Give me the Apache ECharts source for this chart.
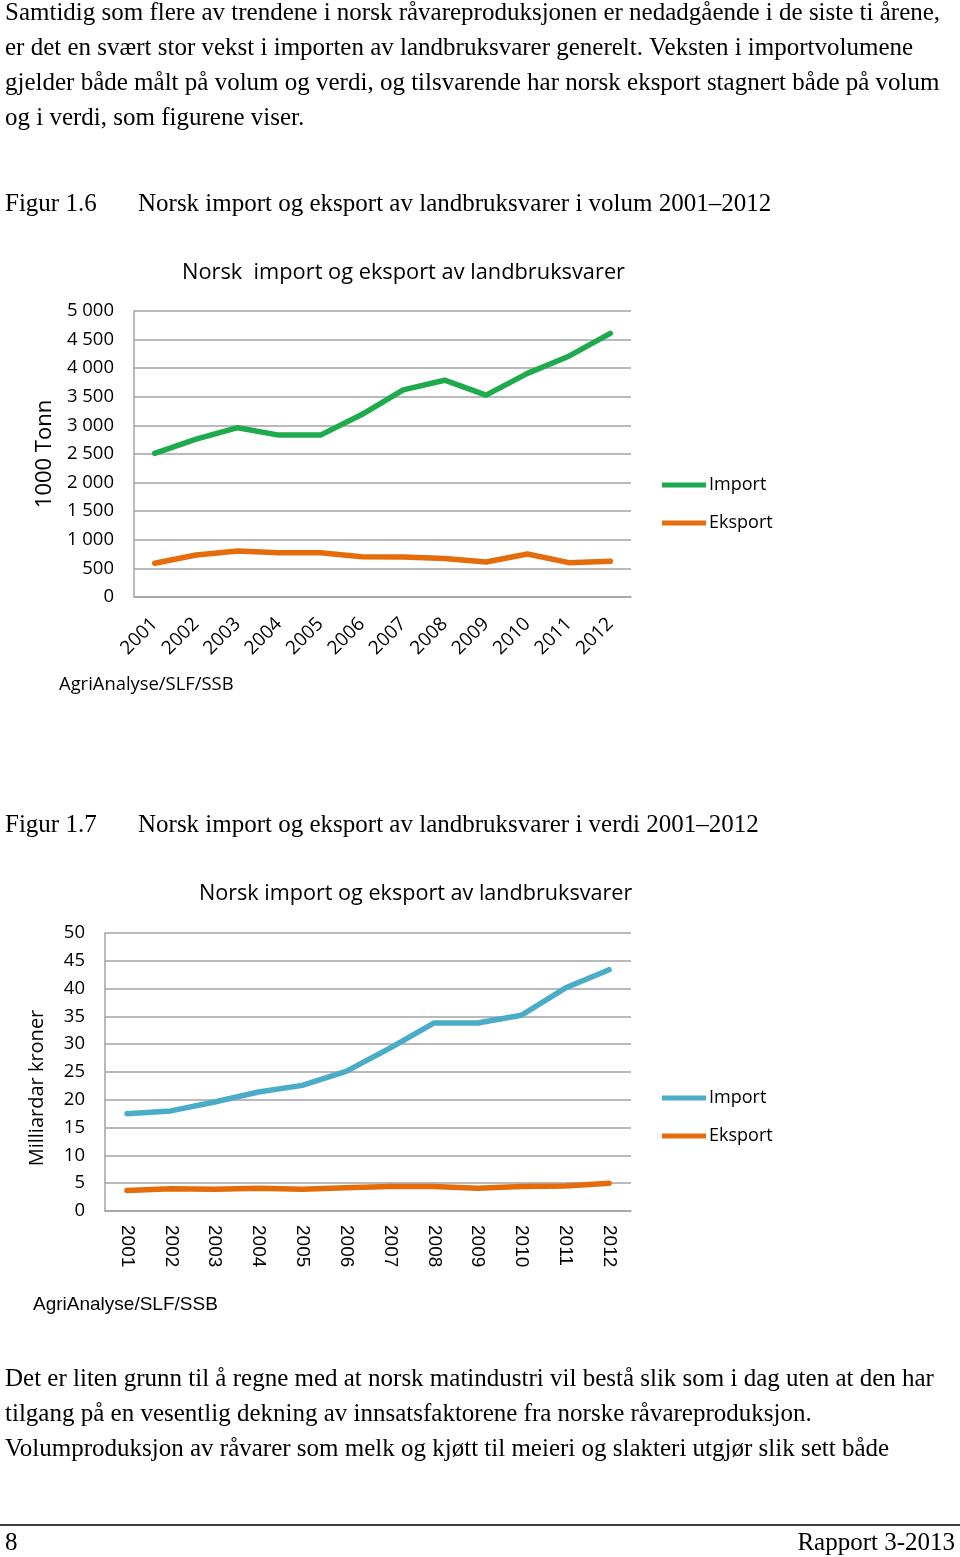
<!DOCTYPE html>
<html><head><meta charset="utf-8">
<script src="https://cdn.jsdelivr.net/npm/echarts@6/dist/echarts.min.js"></script>
<style>html,body{margin:0;padding:0;background:#fff}#c{width:960px;height:1557px}</style>
</head><body><div id="c"></div>
<script>
const years = ['2001','2002','2003','2004','2005','2006','2007','2008','2009','2010','2011','2012'];
// Figur 1.6 – volum (1000 tonn)
const volumeImport = [2510, 2760, 2960, 2830, 2830, 3190, 3620, 3790, 3530, 3910, 4210, 4610];
const volumeExport = [590, 735, 805, 775, 775, 705, 700, 675, 612, 752, 600, 625];
// Figur 1.7 – verdi (milliardar kroner)
const valueImport = [17.5, 18.0, 19.6, 21.4, 22.6, 25.1, 29.3, 33.8, 33.8, 35.2, 40.1, 43.4];
const valueExport = [3.7, 4.0, 3.9, 4.1, 3.9, 4.2, 4.4, 4.4, 4.1, 4.4, 4.5, 5.0];
const seriesNames = ['Import', 'Eksport'];

const introLines = [
  'Samtidig som flere av trendene i norsk råvareproduksjonen er nedadgående i de siste ti årene,',
  'er det en svært stor vekst i importen av landbruksvarer generelt. Veksten i importvolumene',
  'gjelder både målt på volum og verdi, og tilsvarende har norsk eksport stagnert både på volum',
  'og i verdi, som figurene viser.'
];
const outroLines = [
  'Det er liten grunn til å regne med at norsk matindustri vil bestå slik som i dag uten at den har',
  'tilgang på en vesentlig dekning av innsatsfaktorene fra norske råvareproduksjon.',
  'Volumproduksjon av råvarer som melk og kjøtt til meieri og slakteri utgjør slik sett både'
];
const fig1Caption = ['Figur 1.6', 'Norsk import og eksport av landbruksvarer i volum 2001–2012'];
const fig2Caption = ['Figur 1.7', 'Norsk import og eksport av landbruksvarer i verdi 2001–2012'];
const chartTitle = 'Norsk  import og eksport av landbruksvarer';
const source = 'AgriAnalyse/SLF/SSB';
const footer = ['8', 'Rapport 3-2013'];

const GREEN = '#1fab4d', ORANGE = '#e46c0a', BLUE = '#4aacc6', GRID = '#a3a3a3';
const SERIF = '25px "Liberation Serif"';
const SANS = '"Open Sans"';

const graphic = [];
function serifText(t, x, y, align) {
  graphic.push({type: 'text', x: x, y: y, style: {text: t, font: SERIF, fill: '#000', align: align || 'left', verticalAlign: 'middle'}});
}
introLines.forEach((t, i) => serifText(t, 5, 13 + i * 35));
serifText(fig1Caption[0], 5, 204); serifText(fig1Caption[1], 138, 204);
serifText(fig2Caption[0], 5, 825); serifText(fig2Caption[1], 138, 825);
outroLines.forEach((t, i) => serifText(t, 5, 1379 + i * 35));
serifText(footer[0], 5, 1543); serifText(footer[1], 955, 1543, 'right');
graphic.push({type: 'line', shape: {x1: 0, y1: 1525, x2: 960, y2: 1525}, style: {stroke: '#000', lineWidth: 1.5}});
graphic.push({type: 'text', x: 59, y: 685, style: {text: source, font: '18.4px ' + SANS, fill: '#000', verticalAlign: 'middle'}});
graphic.push({type: 'text', x: 33, y: 1305, style: {text: source, font: '19px "Liberation Sans"', fill: '#000', verticalAlign: 'middle'}});

const spaceFmt = v => String(v).replace(/\B(?=(\d{3})+(?!\d))/g, ' ');

function yAxis(gridIndex, max, interval, name, fmt, namePad) {
  return {
    type: 'value', gridIndex, min: 0, max, interval,
    name, nameLocation: 'middle', nameRotate: 90, nameGap: namePad.gap,
    nameTextStyle: {fontFamily: SANS, fontSize: namePad.size, color: '#000', padding: namePad.padding},
    axisLine: {show: true, lineStyle: {color: GRID, width: 1.5}},
    axisTick: {show: false},
    axisLabel: {color: '#000', fontFamily: SANS, fontSize: 18.5, margin: 20, formatter: fmt},
    splitLine: {lineStyle: {color: GRID, width: 1.5}}
  };
}
function xAxis(gridIndex, rotate, font, size, margin) {
  return {
    type: 'category', gridIndex, data: years, boundaryGap: true,
    axisLine: {show: true, lineStyle: {color: GRID, width: 1.5}},
    axisTick: {show: false},
    axisLabel: {color: '#000', fontFamily: font, fontSize: size, rotate, margin, interval: 0}
  };
}
function line(name, data, color, idx) {
  return {
    name, type: 'line', data, xAxisIndex: idx, yAxisIndex: idx, symbol: 'none',
    color, lineStyle: {width: 5.5, color, cap: 'round', join: 'round'}, emphasis: {disabled: true}
  };
}
function legend(top, colors) {
  return {
    orient: 'vertical', left: 662, top, padding: 0, itemWidth: 44, itemHeight: 5, itemGap: 20,
    icon: 'rect', selectedMode: false,
    textStyle: {color: '#000', fontFamily: SANS, fontSize: 18, padding: [0, 0, 0, -2]},
    data: seriesNames.map((n, i) => ({name: n, itemStyle: {color: colors[i]}}))
  };
}

const option = {
  animation: false,
  backgroundColor: '#fff',
  title: [
    {text: chartTitle, left: 177, top: 257, textStyle: {fontFamily: SANS, fontSize: 21.8, fontWeight: 'normal', color: '#000'}},
    {text: chartTitle.replace('  ', ' '), left: 194, top: 878, textStyle: {fontFamily: SANS, fontSize: 21.6, fontWeight: 'normal', color: '#000'}}
  ],
  legend: [legend(476, [GREEN, ORANGE]), legend(1089, [BLUE, ORANGE])],
  grid: [
    {left: 134, right: 329, top: 311, height: 286},
    {left: 105, right: 329, top: 933, height: 278}
  ],
  xAxis: [xAxis(0, 45, SANS, 19, 24), xAxis(1, -90, '"Liberation Sans"', 19, 14)],
  yAxis: [
    yAxis(0, 5000, 500, '1000 Tonn', spaceFmt, {gap: 76, size: 22, padding: 0}),
    yAxis(1, 50, 5, 'Milliardar kroner', v => v, {gap: 58, size: 20, padding: [0, 32, 0, 0]})
  ],
  series: [
    line('Import', volumeImport, GREEN, 0),
    line('Eksport', volumeExport, ORANGE, 0),
    line('Import', valueImport, BLUE, 1),
    line('Eksport', valueExport, ORANGE, 1)
  ],
  graphic
};
echarts.init(document.getElementById('c'), null, {renderer: 'canvas'}).setOption(option);
</script></body></html>
